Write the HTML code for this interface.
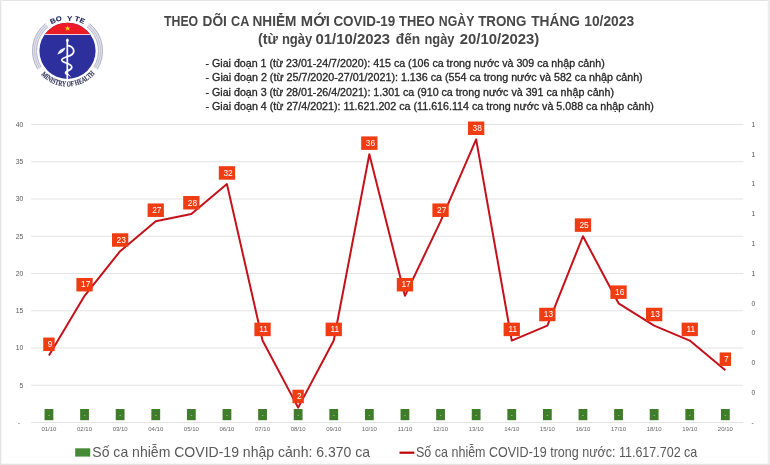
<!DOCTYPE html>
<html><head><meta charset="utf-8">
<style>
html,body{margin:0;padding:0;background:#fff;}
body{width:770px;height:465px;overflow:hidden;position:relative;font-family:"Liberation Sans",sans-serif;}
svg{position:absolute;left:0;top:0;}
.ax{font-family:"Liberation Sans",sans-serif;font-size:6.8px;fill:#595959;}
.xl{font-family:"Liberation Sans",sans-serif;font-size:6.0px;fill:#666666;}
.dl{font-family:"Liberation Sans",sans-serif;font-size:8.4px;fill:#ffffff;}
.t1{font-family:"Liberation Sans",sans-serif;font-size:14.6px;font-weight:bold;fill:#474747;}
.b1{font-family:"Liberation Sans",sans-serif;font-size:10.3px;fill:#262626;}
.lg{font-family:"Liberation Sans",sans-serif;font-size:14.2px;fill:#595959;}
</style></head>
<body>
<svg style="will-change:transform" width="770" height="465" viewBox="0 0 770 465">
<g id="logo">
<path d="M 39.51 68.29 A 33.0 33.0 0 0 1 46.73 25.15" fill="none" stroke="#e2e3ec" stroke-width="5.0"/>
<path d="M 37.82 69.35 A 35.0 35.0 0 0 1 45.47 23.60" fill="none" stroke="#aeb0c4" stroke-width="0.9"/>
<path d="M 39.51 68.29 A 33.0 33.0 0 0 1 46.73 25.15" fill="none" stroke="#b9bbcd" stroke-width="0.8"/>
<path d="M 41.21 67.23 A 31.0 31.0 0 0 1 47.99 26.71" fill="none" stroke="#b3b5c8" stroke-width="0.9"/>
<path d="M 88.27 25.15 A 33.0 33.0 0 0 1 95.49 68.29" fill="none" stroke="#e2e3ec" stroke-width="5.0"/>
<path d="M 89.53 23.60 A 35.0 35.0 0 0 1 97.18 69.35" fill="none" stroke="#aeb0c4" stroke-width="0.9"/>
<path d="M 88.27 25.15 A 33.0 33.0 0 0 1 95.49 68.29" fill="none" stroke="#b9bbcd" stroke-width="0.8"/>
<path d="M 87.01 26.71 A 31.0 31.0 0 0 1 93.79 67.23" fill="none" stroke="#b3b5c8" stroke-width="0.9"/>
<circle cx="67.5" cy="50.8" r="28.1" fill="#2d2f9c"/>
<clipPath id="cc"><circle cx="67.5" cy="50.8" r="28.1"/></clipPath>
<rect x="38" y="20" width="60" height="14.0" fill="#ec1c26" clip-path="url(#cc)"/>
<rect x="38" y="34.0" width="60" height="1.0" fill="#f4d0d4" clip-path="url(#cc)"/>
<polygon points="67.60,25.40 68.31,27.43 70.45,27.47 68.74,28.77 69.36,30.83 67.60,29.60 65.84,30.83 66.46,28.77 64.75,27.47 66.89,27.43" fill="#ffd21f"/>
<g fill="none" stroke="#ffffff" stroke-linecap="round">
<line x1="67.3" y1="40" x2="67.3" y2="79" stroke-width="1.7"/>
<path d="M 68.2 45.6 C 73.5 46.5 75.5 51.5 72 54.5 C 69 57 62 57 61.8 60 C 61.6 63 71.6 63 71.8 67 C 72 70.5 66 70.5 65.6 72.5 C 65.4 74 67 74.5 68 74.5" stroke-width="1.7"/>
<path d="M 68.5 74.8 L 70.3 76.5" stroke-width="1.0"/>
</g>
<path d="M 57.3 54.6 C 58.5 50.5 61.5 48.2 65.6 47.4 C 64.5 51 61.5 53.2 57.3 54.6 Z" fill="#eef0fa"/>
<ellipse cx="67.4" cy="40.2" rx="1.3" ry="1.7" fill="#ffffff"/>
<text transform="translate(67.8 50.8) rotate(-26.6) translate(0 -31.0) scale(1.12 1)" text-anchor="middle" font-family="Liberation Sans" font-weight="bold" font-size="6.8" fill="#25275a" stroke="#25275a" stroke-width="0.15">B</text>
<text transform="translate(67.8 50.8) rotate(-15.6) translate(0 -31.0) scale(1.12 1)" text-anchor="middle" font-family="Liberation Sans" font-weight="bold" font-size="6.8" fill="#25275a" stroke="#25275a" stroke-width="0.15">O</text>
<text transform="translate(67.8 50.8) rotate(3.1) translate(0 -29.9) scale(1.12 1)" text-anchor="middle" font-family="Liberation Sans" font-weight="bold" font-size="6.8" fill="#25275a" stroke="#25275a" stroke-width="0.15">Y</text>
<text transform="translate(67.8 50.8) rotate(16.6) translate(0 -30.8) scale(1.12 1)" text-anchor="middle" font-family="Liberation Sans" font-weight="bold" font-size="6.8" fill="#25275a" stroke="#25275a" stroke-width="0.15">T</text>
<text transform="translate(67.8 50.8) rotate(26.0) translate(0 -31.0) scale(1.12 1)" text-anchor="middle" font-family="Liberation Sans" font-weight="bold" font-size="6.8" fill="#25275a" stroke="#25275a" stroke-width="0.15">E</text>
<path id="botarc" d="M 41.04 74.62 A 35.6 35.6 0 0 0 94.77 73.68" fill="none"/>
<text font-family="Liberation Serif" font-weight="bold" font-size="7.6" fill="#34365a" stroke="#34365a" stroke-width="0.15"><textPath href="#botarc" textLength="60.9" lengthAdjust="spacingAndGlyphs">MINISTRY OF HEALTH</textPath></text>
</g>
<text x="164.0" y="25.8" class="t1" textLength="34.2" lengthAdjust="spacingAndGlyphs">THEO</text>
<text x="202.6" y="25.8" class="t1" textLength="24.3" lengthAdjust="spacingAndGlyphs">DÕI</text>
<text x="231.1" y="25.8" class="t1" textLength="18.2" lengthAdjust="spacingAndGlyphs">CA</text>
<text x="252.5" y="25.8" class="t1" textLength="43.9" lengthAdjust="spacingAndGlyphs">NHIỄM</text>
<text x="300.8" y="25.8" class="t1" textLength="29.1" lengthAdjust="spacingAndGlyphs">MỚI</text>
<text x="333.4" y="25.8" class="t1" textLength="61.9" lengthAdjust="spacingAndGlyphs">COVID-19</text>
<text x="399.1" y="25.8" class="t1" textLength="35.7" lengthAdjust="spacingAndGlyphs">THEO</text>
<text x="438.8" y="25.8" class="t1" textLength="35.6" lengthAdjust="spacingAndGlyphs">NGÀY</text>
<text x="478.2" y="25.8" class="t1" textLength="48.2" lengthAdjust="spacingAndGlyphs">TRONG</text>
<text x="531.2" y="25.8" class="t1" textLength="48.8" lengthAdjust="spacingAndGlyphs">THÁNG</text>
<text x="584.2" y="25.8" class="t1" textLength="50.0" lengthAdjust="spacingAndGlyphs">10/2023</text>
<text x="258.0" y="44.2" class="t1" textLength="20.0" lengthAdjust="spacingAndGlyphs">(từ</text>
<text x="281.9" y="44.2" class="t1" textLength="30.3" lengthAdjust="spacingAndGlyphs">ngày</text>
<text x="315.5" y="44.2" class="t1" textLength="74.6" lengthAdjust="spacingAndGlyphs">01/10/2023</text>
<text x="395.8" y="44.2" class="t1" textLength="24.4" lengthAdjust="spacingAndGlyphs">đến</text>
<text x="424.4" y="44.2" class="t1" textLength="30.1" lengthAdjust="spacingAndGlyphs">ngày</text>
<text x="459.7" y="44.2" class="t1" textLength="79.6" lengthAdjust="spacingAndGlyphs">20/10/2023)</text>
<text x="205.5" y="67.1" class="b1" stroke="#262626" stroke-width="0.3" textLength="399.2" lengthAdjust="spacingAndGlyphs">- Giai đoạn 1 (từ 23/01-24/7/2020): 415 ca (106 ca trong nước và 309 ca nhập cảnh)</text>
<text x="205.5" y="81.2" class="b1" stroke="#262626" stroke-width="0.3" textLength="437.2" lengthAdjust="spacingAndGlyphs">- Giai đoạn 2 (từ 25/7/2020-27/01/2021): 1.136 ca (554 ca trong nước và 582 ca nhập cảnh)</text>
<text x="205.5" y="95.6" class="b1" stroke="#262626" stroke-width="0.3" textLength="408.5" lengthAdjust="spacingAndGlyphs">- Giai đoạn 3 (từ 28/01-26/4/2021): 1.301 ca (910 ca trong nước và 391 ca nhập cảnh)</text>
<text x="205.5" y="109.9" class="b1" stroke="#262626" stroke-width="0.3" textLength="448.4" lengthAdjust="spacingAndGlyphs">- Giai đoạn 4 (từ 27/4/2021): 11.621.202 ca (11.616.114 ca trong nước và 5.088 ca nhập cảnh)</text>
<line x1="31.2" y1="124.50" x2="743.4" y2="124.50" stroke="#e3e3e3" stroke-width="1"/>
<line x1="31.2" y1="161.75" x2="743.4" y2="161.75" stroke="#e3e3e3" stroke-width="1"/>
<line x1="31.2" y1="199.00" x2="743.4" y2="199.00" stroke="#e3e3e3" stroke-width="1"/>
<line x1="31.2" y1="236.25" x2="743.4" y2="236.25" stroke="#e3e3e3" stroke-width="1"/>
<line x1="31.2" y1="273.50" x2="743.4" y2="273.50" stroke="#e3e3e3" stroke-width="1"/>
<line x1="31.2" y1="310.75" x2="743.4" y2="310.75" stroke="#e3e3e3" stroke-width="1"/>
<line x1="31.2" y1="348.00" x2="743.4" y2="348.00" stroke="#e3e3e3" stroke-width="1"/>
<line x1="31.2" y1="385.25" x2="743.4" y2="385.25" stroke="#e3e3e3" stroke-width="1"/>
<line x1="31.2" y1="422.5" x2="743.4" y2="422.5" stroke="#e3e3e3" stroke-width="1"/>
<text x="23.3" y="126.85" text-anchor="end" class="ax">40</text>
<text x="23.3" y="164.10" text-anchor="end" class="ax">35</text>
<text x="23.3" y="201.35" text-anchor="end" class="ax">30</text>
<text x="23.3" y="238.60" text-anchor="end" class="ax">25</text>
<text x="23.3" y="275.85" text-anchor="end" class="ax">20</text>
<text x="23.3" y="313.10" text-anchor="end" class="ax">15</text>
<text x="23.3" y="350.35" text-anchor="end" class="ax">10</text>
<text x="23.3" y="387.60" text-anchor="end" class="ax">5</text>
<text x="20" y="424.70" text-anchor="end" class="ax">-</text>
<text x="751.6" y="126.85" class="ax">1</text>
<text x="751.6" y="156.65" class="ax">1</text>
<text x="751.6" y="186.45" class="ax">1</text>
<text x="751.6" y="216.25" class="ax">1</text>
<text x="751.6" y="246.05" class="ax">1</text>
<text x="751.6" y="275.85" class="ax">1</text>
<text x="751.6" y="305.65" class="ax">0</text>
<text x="751.6" y="335.45" class="ax">0</text>
<text x="751.6" y="365.25" class="ax">0</text>
<text x="751.6" y="395.05" class="ax">0</text>
<text x="751.6" y="424.85" class="ax">-</text>
<text x="48.95" y="430.6" text-anchor="middle" class="xl">01/10</text>
<rect x="44.55" y="409" width="8.8" height="11.2" fill="#3f7d2a"/>
<rect x="48.25" y="415.0" width="1.5" height="0.8" fill="#9cc58c"/>
<text x="84.55" y="430.6" text-anchor="middle" class="xl">02/10</text>
<rect x="80.15" y="409" width="8.8" height="11.2" fill="#3f7d2a"/>
<rect x="83.85" y="415.0" width="1.5" height="0.8" fill="#9cc58c"/>
<text x="120.15" y="430.6" text-anchor="middle" class="xl">03/10</text>
<rect x="115.75" y="409" width="8.8" height="11.2" fill="#3f7d2a"/>
<rect x="119.45" y="415.0" width="1.5" height="0.8" fill="#9cc58c"/>
<text x="155.75" y="430.6" text-anchor="middle" class="xl">04/10</text>
<rect x="151.35" y="409" width="8.8" height="11.2" fill="#3f7d2a"/>
<rect x="155.05" y="415.0" width="1.5" height="0.8" fill="#9cc58c"/>
<text x="191.35" y="430.6" text-anchor="middle" class="xl">05/10</text>
<rect x="186.95" y="409" width="8.8" height="11.2" fill="#3f7d2a"/>
<rect x="190.65" y="415.0" width="1.5" height="0.8" fill="#9cc58c"/>
<text x="226.95" y="430.6" text-anchor="middle" class="xl">06/10</text>
<rect x="222.55" y="409" width="8.8" height="11.2" fill="#3f7d2a"/>
<rect x="226.25" y="415.0" width="1.5" height="0.8" fill="#9cc58c"/>
<text x="262.55" y="430.6" text-anchor="middle" class="xl">07/10</text>
<rect x="258.15" y="409" width="8.8" height="11.2" fill="#3f7d2a"/>
<rect x="261.85" y="415.0" width="1.5" height="0.8" fill="#9cc58c"/>
<text x="298.15" y="430.6" text-anchor="middle" class="xl">08/10</text>
<rect x="293.75" y="409" width="8.8" height="11.2" fill="#3f7d2a"/>
<rect x="297.45" y="415.0" width="1.5" height="0.8" fill="#9cc58c"/>
<text x="333.75" y="430.6" text-anchor="middle" class="xl">09/10</text>
<rect x="329.35" y="409" width="8.8" height="11.2" fill="#3f7d2a"/>
<rect x="333.05" y="415.0" width="1.5" height="0.8" fill="#9cc58c"/>
<text x="369.35" y="430.6" text-anchor="middle" class="xl">10/10</text>
<rect x="364.95" y="409" width="8.8" height="11.2" fill="#3f7d2a"/>
<rect x="368.65" y="415.0" width="1.5" height="0.8" fill="#9cc58c"/>
<text x="404.95" y="430.6" text-anchor="middle" class="xl">11/10</text>
<rect x="400.55" y="409" width="8.8" height="11.2" fill="#3f7d2a"/>
<rect x="404.25" y="415.0" width="1.5" height="0.8" fill="#9cc58c"/>
<text x="440.55" y="430.6" text-anchor="middle" class="xl">12/10</text>
<rect x="436.15" y="409" width="8.8" height="11.2" fill="#3f7d2a"/>
<rect x="439.85" y="415.0" width="1.5" height="0.8" fill="#9cc58c"/>
<text x="476.15" y="430.6" text-anchor="middle" class="xl">13/10</text>
<rect x="471.75" y="409" width="8.8" height="11.2" fill="#3f7d2a"/>
<rect x="475.45" y="415.0" width="1.5" height="0.8" fill="#9cc58c"/>
<text x="511.75" y="430.6" text-anchor="middle" class="xl">14/10</text>
<rect x="507.35" y="409" width="8.8" height="11.2" fill="#3f7d2a"/>
<rect x="511.05" y="415.0" width="1.5" height="0.8" fill="#9cc58c"/>
<text x="547.35" y="430.6" text-anchor="middle" class="xl">15/10</text>
<rect x="542.95" y="409" width="8.8" height="11.2" fill="#3f7d2a"/>
<rect x="546.65" y="415.0" width="1.5" height="0.8" fill="#9cc58c"/>
<text x="582.95" y="430.6" text-anchor="middle" class="xl">16/10</text>
<rect x="578.55" y="409" width="8.8" height="11.2" fill="#3f7d2a"/>
<rect x="582.25" y="415.0" width="1.5" height="0.8" fill="#9cc58c"/>
<text x="618.55" y="430.6" text-anchor="middle" class="xl">17/10</text>
<rect x="614.15" y="409" width="8.8" height="11.2" fill="#3f7d2a"/>
<rect x="617.85" y="415.0" width="1.5" height="0.8" fill="#9cc58c"/>
<text x="654.15" y="430.6" text-anchor="middle" class="xl">18/10</text>
<rect x="649.75" y="409" width="8.8" height="11.2" fill="#3f7d2a"/>
<rect x="653.45" y="415.0" width="1.5" height="0.8" fill="#9cc58c"/>
<text x="689.75" y="430.6" text-anchor="middle" class="xl">19/10</text>
<rect x="685.35" y="409" width="8.8" height="11.2" fill="#3f7d2a"/>
<rect x="689.05" y="415.0" width="1.5" height="0.8" fill="#9cc58c"/>
<text x="725.35" y="430.6" text-anchor="middle" class="xl">20/10</text>
<rect x="720.95" y="409" width="8.8" height="11.2" fill="#3f7d2a"/>
<rect x="724.65" y="415.0" width="1.5" height="0.8" fill="#9cc58c"/>
<polyline points="48.95,355.45 84.55,295.85 120.15,251.15 155.75,221.35 191.35,213.90 226.95,184.10 262.55,340.55 298.15,407.60 333.75,340.55 369.35,154.30 404.95,295.85 440.55,221.35 476.15,139.40 511.75,340.55 547.35,325.65 582.95,236.25 618.55,303.30 654.15,325.65 689.75,340.55 725.35,370.35" fill="none" stroke="#c4111b" stroke-width="2.0" stroke-linejoin="round"/>
<rect x="43.25" y="337.55" width="11.4" height="13.5" fill="#f03c12"/>
<text x="50.05" y="347.05" text-anchor="middle" class="dl">9</text>
<rect x="76.40" y="277.95" width="16.3" height="13.5" fill="#f03c12"/>
<text x="85.65" y="287.45" text-anchor="middle" class="dl">17</text>
<rect x="112.00" y="233.25" width="16.3" height="13.5" fill="#f03c12"/>
<text x="121.25" y="242.75" text-anchor="middle" class="dl">23</text>
<rect x="147.60" y="203.45" width="16.3" height="13.5" fill="#f03c12"/>
<text x="156.85" y="212.95" text-anchor="middle" class="dl">27</text>
<rect x="183.20" y="196.00" width="16.3" height="13.5" fill="#f03c12"/>
<text x="192.45" y="205.50" text-anchor="middle" class="dl">28</text>
<rect x="218.80" y="166.20" width="16.3" height="13.5" fill="#f03c12"/>
<text x="228.05" y="175.70" text-anchor="middle" class="dl">32</text>
<rect x="254.40" y="322.65" width="16.3" height="13.5" fill="#f03c12"/>
<text x="263.65" y="332.15" text-anchor="middle" class="dl">11</text>
<rect x="292.45" y="389.70" width="11.4" height="13.5" fill="#f03c12"/>
<text x="299.25" y="399.20" text-anchor="middle" class="dl">2</text>
<rect x="325.60" y="322.65" width="16.3" height="13.5" fill="#f03c12"/>
<text x="334.85" y="332.15" text-anchor="middle" class="dl">11</text>
<rect x="361.20" y="136.40" width="16.3" height="13.5" fill="#f03c12"/>
<text x="370.45" y="145.90" text-anchor="middle" class="dl">36</text>
<rect x="396.80" y="277.95" width="16.3" height="13.5" fill="#f03c12"/>
<text x="406.05" y="287.45" text-anchor="middle" class="dl">17</text>
<rect x="432.40" y="203.45" width="16.3" height="13.5" fill="#f03c12"/>
<text x="441.65" y="212.95" text-anchor="middle" class="dl">27</text>
<rect x="468.00" y="121.50" width="16.3" height="13.5" fill="#f03c12"/>
<text x="477.25" y="131.00" text-anchor="middle" class="dl">38</text>
<rect x="503.60" y="322.65" width="16.3" height="13.5" fill="#f03c12"/>
<text x="512.85" y="332.15" text-anchor="middle" class="dl">11</text>
<rect x="539.20" y="307.75" width="16.3" height="13.5" fill="#f03c12"/>
<text x="548.45" y="317.25" text-anchor="middle" class="dl">13</text>
<rect x="574.80" y="218.35" width="16.3" height="13.5" fill="#f03c12"/>
<text x="584.05" y="227.85" text-anchor="middle" class="dl">25</text>
<rect x="610.40" y="285.40" width="16.3" height="13.5" fill="#f03c12"/>
<text x="619.65" y="294.90" text-anchor="middle" class="dl">16</text>
<rect x="646.00" y="307.75" width="16.3" height="13.5" fill="#f03c12"/>
<text x="655.25" y="317.25" text-anchor="middle" class="dl">13</text>
<rect x="681.60" y="322.65" width="16.3" height="13.5" fill="#f03c12"/>
<text x="690.85" y="332.15" text-anchor="middle" class="dl">11</text>
<rect x="719.65" y="352.45" width="11.4" height="13.5" fill="#f03c12"/>
<text x="726.45" y="361.95" text-anchor="middle" class="dl">7</text>
<rect x="75.2" y="448.3" width="15" height="8.3" fill="#468a37"/>
<text x="92.3" y="456.6" class="lg" textLength="277.8" lengthAdjust="spacingAndGlyphs">Số ca nhiễm COVID-19 nhập cảnh: 6.370 ca</text>
<line x1="399.5" y1="452.7" x2="414.3" y2="452.7" stroke="#c00000" stroke-width="2.2"/>
<text x="416" y="456.6" class="lg" textLength="281.3" lengthAdjust="spacingAndGlyphs">Số ca nhiễm COVID-19 trong nước: 11.617.702 ca</text>
<!-- border -->
<rect x="0" y="0" width="770" height="1" fill="#e4e4e4"/>
<rect x="0" y="0" width="1.1" height="465" fill="#e4e4e4"/><rect x="1.1" y="0" width="1" height="465" fill="#f6f6f6"/>
<rect x="767.6" y="0" width="0.8" height="465" fill="#f3f3f3"/><rect x="768.4" y="0" width="1.6" height="465" fill="#e9e9e9"/>
<rect x="0" y="463.7" width="770" height="1.3" fill="#e4e4e4"/>
</svg>
</body></html>
